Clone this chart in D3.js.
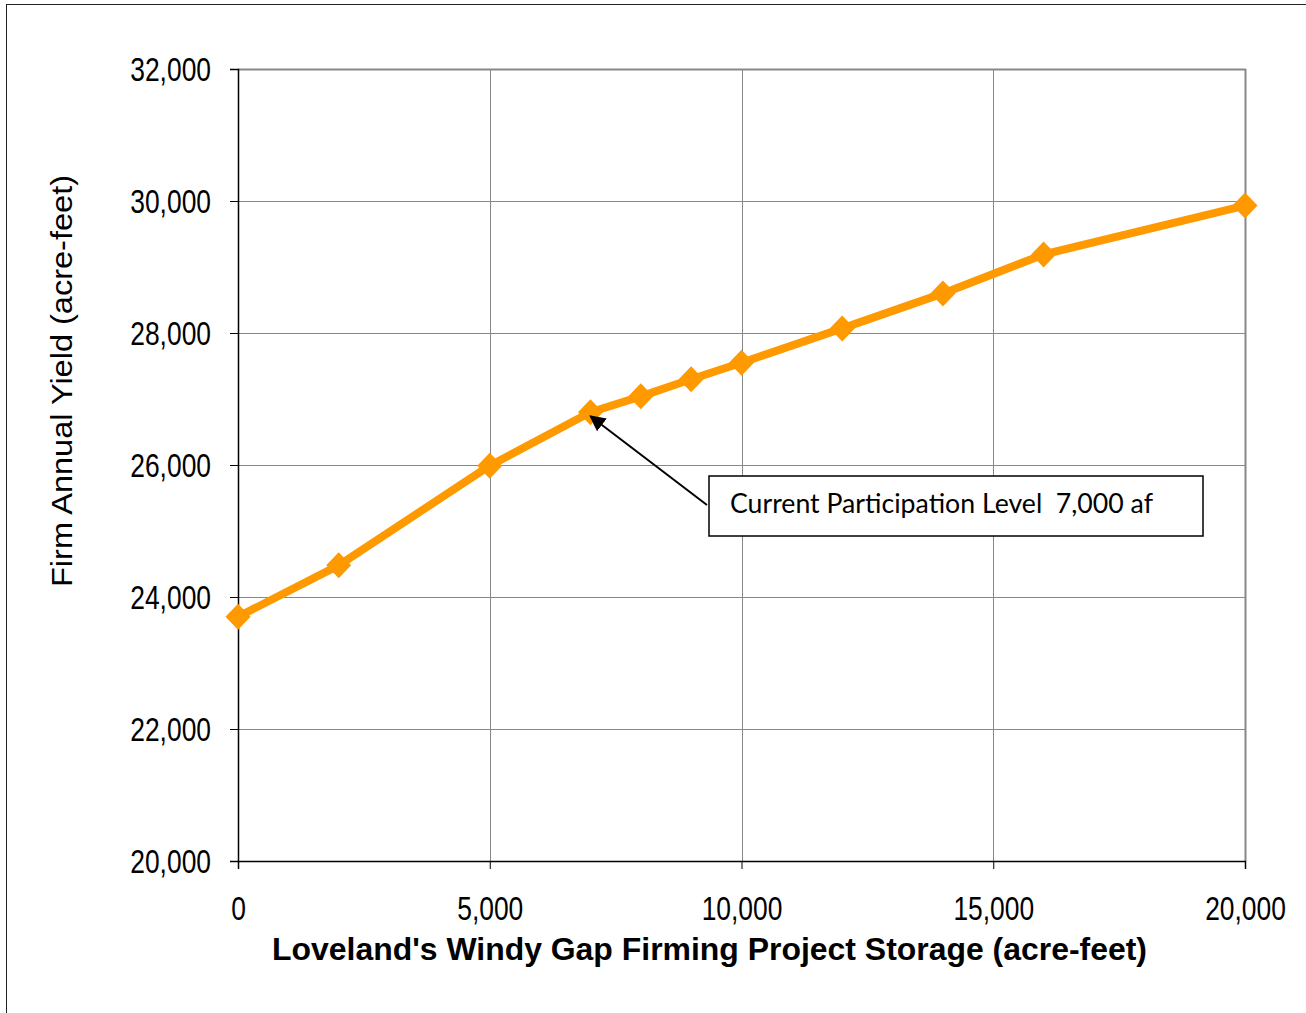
<!DOCTYPE html>
<html><head><meta charset="utf-8">
<script src="https://cdn.jsdelivr.net/npm/d3@7"></script>
<style>body{margin:0;background:#fff}</style>
</head><body>
<svg id="c" width="1306" height="1013"></svg>
<script>
const storage = [0, 2000, 5000, 7000, 8000, 9000, 10000, 12000, 14000, 16000, 20000];
const yieldAF = [23700, 24480, 25990, 26800, 27040, 27300, 27550, 28070, 28600, 29190, 29930];
const xTicks = [0, 5000, 10000, 15000, 20000];
const yTicks = [20000, 22000, 24000, 26000, 28000, 30000, 32000];
const xTitle = "Loveland's Windy Gap Firming Project Storage (acre-feet)";
const yTitle = "Firm Annual Yield (acre-feet)";
const noteText = "Current Participation Level\u00a0\u00a07,000 af";
const noteX = 7000;

const svg = d3.select("#c");
const L = 238, R = 1245, T = 69, B = 861;
const x = d3.scaleLinear().domain([0, 20000]).range([L, R]);
const y = d3.scaleLinear().domain([20000, 32000]).range([B, T]);
const fmt = d3.format(",");
const NARROW = 0.8;

// compress text horizontally, keeping its anchor position ("end" / "middle")
function narrow(sel, anchorX, mode) {
  sel.each(function () {
    const w = this.getComputedTextLength() * NARROW;
    const x0 = mode === "end" ? anchorX - w : anchorX - w / 2;
    d3.select(this).attr("text-anchor", "start").attr("x", x0)
      .attr("textLength", w).attr("lengthAdjust", "spacingAndGlyphs");
  });
}

// outer border
svg.append("rect").attr("x", 6.5).attr("y", 4.5).attr("width", 1310).attr("height", 1020)
  .attr("fill", "none").attr("stroke", "#222").attr("stroke-width", 1);

// gridlines
svg.append("g").selectAll("line").data(yTicks.slice(1)).join("line")
  .attr("x1", L).attr("x2", R).attr("y1", d => Math.round(y(d)) + 0.5).attr("y2", d => Math.round(y(d)) + 0.5)
  .attr("stroke", "#888").attr("stroke-width", 1);
svg.append("g").selectAll("line").data(xTicks.slice(1)).join("line")
  .attr("y1", T).attr("y2", B).attr("x1", d => Math.round(x(d)) + 0.5).attr("x2", d => Math.round(x(d)) + 0.5)
  .attr("stroke", "#888").attr("stroke-width", 1);
svg.append("line").attr("x1", L).attr("x2", R + 1).attr("y1", T + 0.5).attr("y2", T + 0.5).attr("stroke", "#888").attr("stroke-width", 2);
svg.append("line").attr("x1", R + 0.5).attr("x2", R + 0.5).attr("y1", T).attr("y2", B).attr("stroke", "#888").attr("stroke-width", 2);

// axes
const yAxis = svg.append("g").attr("transform", `translate(${L},0)`)
  .call(d3.axisLeft(y).tickValues(yTicks).tickFormat(fmt).tickSize(8));
const xAxis = svg.append("g").attr("transform", `translate(0,${B})`)
  .call(d3.axisBottom(x).tickValues(xTicks).tickFormat(fmt).tickSize(8));
[yAxis, xAxis].forEach(g => {
  g.select(".domain").attr("stroke", "#000").attr("stroke-width", 1.5);
  g.selectAll(".tick line").attr("stroke", "#000");
  g.selectAll("text").attr("font-family", "'Liberation Sans', Arial, sans-serif")
    .attr("font-size", 33).attr("fill", "#000");
});
yAxis.selectAll("text").attr("dy", "0.36em");
xAxis.selectAll("text").attr("y", 59).attr("dy", 0);
narrow(yAxis.selectAll("text"), -27, "end");
narrow(xAxis.selectAll("text"), 0, "middle");

// line
const pts = storage.map((s, i) => [s, yieldAF[i]]);
svg.append("path").datum(pts)
  .attr("d", d3.line().x(d => x(d[0])).y(d => y(d[1])))
  .attr("fill", "none").attr("stroke", "#FF9900").attr("stroke-width", 8).attr("stroke-linejoin", "round");
svg.append("g").selectAll("path").data(pts).join("path")
  .attr("transform", d => `translate(${x(d[0])},${y(d[1])})`)
  .attr("d", "M0,-13L12.5,0L0,13L-12.5,0Z").attr("fill", "#FF9900");

// annotation
const defs = svg.append("defs");
defs.append("marker").attr("id", "ah").attr("viewBox", "0 0 10 10").attr("refX", 9).attr("refY", 5)
  .attr("markerWidth", 8).attr("markerHeight", 8).attr("orient", "auto")
  .append("path").attr("d", "M0,0L10,5L0,10Z").attr("fill", "#000");
const nxi = storage.indexOf(noteX);
svg.append("line").attr("x1", 707).attr("y1", 505)
  .attr("x2", x(noteX)).attr("y2", y(yieldAF[nxi]) + 4)
  .attr("stroke", "#000").attr("stroke-width", 2).attr("marker-end", "url(#ah)");
svg.append("rect").attr("x", 709).attr("y", 476).attr("width", 494).attr("height", 60)
  .attr("fill", "#fff").attr("stroke", "#000").attr("stroke-width", 1.5);
svg.append("text").attr("x", 730).attr("y", 513).text(noteText)
  .attr("font-family", "Lato, 'Open Sans', sans-serif").attr("font-size", 26).attr("fill", "#000")
  .attr("textLength", 423).attr("lengthAdjust", "spacingAndGlyphs");

// titles
svg.append("text").attr("x", 272).attr("y", 960)
  .attr("font-family", "'Liberation Sans', Arial, sans-serif").attr("font-weight", "bold").attr("font-size", 31)
  .attr("textLength", 875).attr("lengthAdjust", "spacingAndGlyphs")
  .text(xTitle);
svg.append("text").attr("transform", `translate(72,587) rotate(-90)`)
  .attr("font-family", "'Liberation Sans', Arial, sans-serif").attr("font-size", 30)
  .attr("textLength", 412).attr("lengthAdjust", "spacingAndGlyphs")
  .text(yTitle);
</script>
</body></html>
